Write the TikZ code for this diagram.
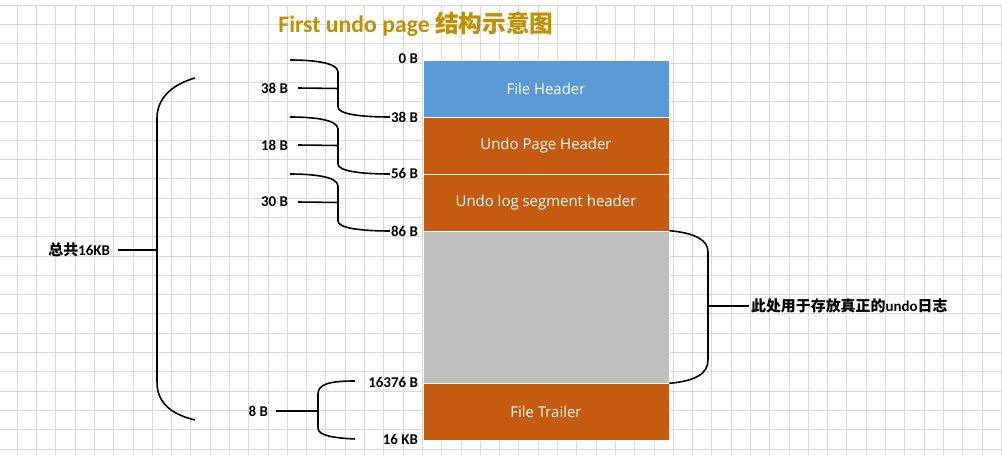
\documentclass[tikz,border=0pt]{standalone}
\usepackage{fontspec}
\setmainfont{Carlito}
\newfontfamily\boxfont{Open Sans}
\newfontfamily\cjk{Noto Sans CJK SC}
\usetikzlibrary{positioning}

\definecolor{hdrblue}{HTML}{5B9BD5}
\definecolor{segorange}{HTML}{C55A11}
\definecolor{freegray}{HTML}{BFBFBF}
\definecolor{titlegold}{HTML}{BF9000}

\begin{document}
\begin{tikzpicture}[x=0.02cm,y=-0.02cm,
    part/.style={draw=white, line width=0.4pt, fill=#1, minimum width=4.92cm, text=white, font=\boxfont\fontsize{8.5}{10}\selectfont, inner sep=0pt},
    offset/.style={font=\bfseries\fontsize{8.5}{10}\selectfont, anchor=east, inner sep=1pt},
    size/.style={font=\bfseries\fontsize{8.5}{10}\selectfont, anchor=east, inner sep=1pt},
    brace/.style={line width=0.9pt}
]
% background and grid
\fill[white] (0,0) rectangle (1002,455);
\useasboundingbox (0,0) rectangle (1002,455);
\draw[black!15, line width=0.3pt, step=0.386cm, shift={(-0.046cm,-0.1cm)}] (0,0) grid (1020,470);

% Title
\node (title) at (416,24) {\color{titlegold}\bfseries\fontsize{13.5}{16}\selectfont First undo page {\cjk\bfseries 结构示意图}};

% Page parts
\node[part=hdrblue, minimum height=1.14cm] (fileheader) at (546,88.5) {File Header};
\node[part=segorange, minimum height=1.14cm] (pageheader) at (546,145.5) {Undo Page Header};
\node[part=segorange, minimum height=1.14cm] (segheader) at (546,202.5) {Undo log segment header};
\node[part=freegray, minimum height=3.04cm] (freespace) at (546,307) {};
\node[part=segorange, minimum height=1.14cm] (trailer) at (546,411.5) {File Trailer};

% Offsets
\node[offset] (o0) at (420,59) {0 B};
\node[offset] (o38) at (420,117) {38 B};
\node[offset] (o56) at (420,173) {56 B};
\node[offset] (o86) at (420,231) {86 B};
\node[offset] (o16376) at (420,382) {16376 B};
\node[offset] (o16k) at (420,439) {16 KB};

% Sizes
\node[size] (s38) at (290,88) {38 B};
\node[size] (s18) at (290,145) {18 B};
\node[size] (s30) at (290,202) {30 B};
\node[size] (s8) at (270,411) {8 B};
\node[size] (total) at (112,250) {{\cjk\bfseries 总共}16KB};
\node[anchor=west, inner sep=1pt, font=\bfseries\fontsize{8.5}{10}\selectfont] (logs) at (749,306) {{\cjk\bfseries 此处用于存放真正的}undo{\cjk\bfseries 日志}};

% Small braces
\foreach \ya/\yb/\s in {60/117/s38, 117/174/s18, 174/231/s30} {
  \draw[brace] (290,\ya) .. controls (310,\ya) and (338,\ya+2) .. (338,\ya+12)
    -- (338,\yb-10) .. controls (338,\yb-3) and (360,\yb) .. (390,\yb);
  \draw[brace] (\s.east) ++(8,0) -- (338,{(\ya+\yb)/2});
}
\draw[brace] (355,381) .. controls (330,381) and (318,384) .. (318,394)
  -- (318,428) .. controls (318,436) and (335,438) .. (355,439);
\draw[brace] (s8.east) ++(6,0) -- (318,411);

% Big braces
\draw[brace] (195,78) .. controls (170,85) and (157,100) .. (157,118)
  -- (157,382) .. controls (157,402) and (170,414) .. (195,420);
\draw[brace] (total.east) ++(6,0) -- (157,250);
\draw[brace] (freespace.north east) .. controls (695,233) and (708,240) .. (708,252)
  -- (708,360) .. controls (708,374) and (695,381) .. (freespace.south east);
\draw[brace] (708,306) -- (logs.west);
\end{tikzpicture}
\end{document}
